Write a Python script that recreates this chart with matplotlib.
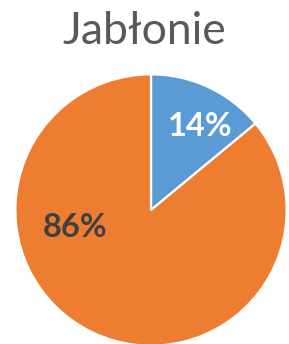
import matplotlib
matplotlib.use("Agg")
import matplotlib.pyplot as plt

# data
labels = ["Tak", "Nie"]
values = [14, 86]
colors = ["#5B9BD5", "#ED7D31"]
label_colors = ["white", "#404040"]
label_pos = [(0.365, 0.613), (-0.562, -0.131)]

plt.rcParams['font.family'] = ['Lato', 'DejaVu Sans']

fig = plt.figure(figsize=(2.89, 3.44), dpi=100)
fig.text(0.5, 1 - 44 / 344, "Jabłonie", ha="center", va="baseline",
         fontsize=32, color="#595959")

ax = fig.add_axes([14 / 289, -3 / 344, 274 / 289, 274 / 344])
wedges, texts, autotexts = ax.pie(
    values, colors=colors, startangle=90, counterclock=False,
    autopct="%1.0f%%", pctdistance=0.7,
    wedgeprops=dict(edgecolor="white", linewidth=1.6),
    textprops=dict(fontsize=23.5, fontweight="bold"))
for t, c, p in zip(autotexts, label_colors, label_pos):
    t.set_color(c)
    t.set_position(p)
ax.set_xlim(-1.01, 1.01)
ax.set_ylim(-1.01, 1.01)
ax.set_aspect("auto")
ax.axis("off")

fig.savefig("out.png", dpi=100)
